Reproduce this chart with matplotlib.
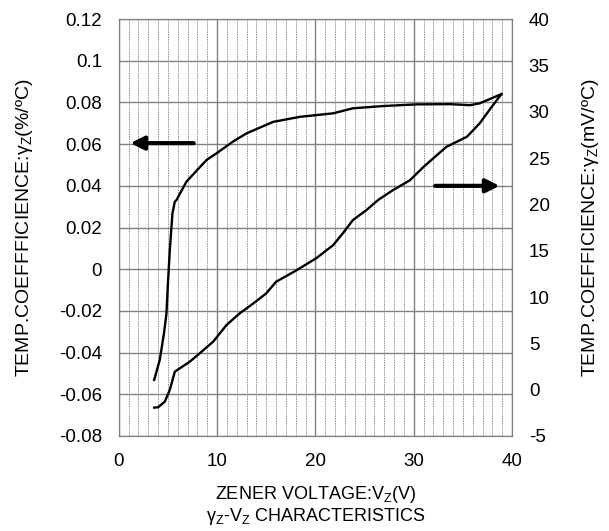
import matplotlib
matplotlib.use("Agg")
import matplotlib.pyplot as plt
import numpy as np

plt.rcParams['font.family'] = ['Liberation Sans', 'DejaVu Sans']
plt.rcParams['mathtext.fontset'] = 'custom'
plt.rcParams['mathtext.rm'] = 'Liberation Sans'
plt.rcParams['mathtext.it'] = 'Liberation Sans'
plt.rcParams['mathtext.default'] = 'regular'
plt.rcParams['axes.unicode_minus'] = False

# Left axis curve: temp coefficient (%/°C)
vz_pct = [3.6, 4.17, 4.6, 4.85, 5.0, 5.19, 5.46, 5.7, 5.87, 6.88, 8.92, 9.94, 11.6, 13.0,
          15.7, 18.4, 21.8, 23.8, 26.9, 30.3, 33.7, 35.7, 36.7, 38.9]
gz_pct = [-0.0531, -0.0435, -0.0307, -0.0212, -0.0068, 0.0092, 0.0268, 0.0324, 0.0332, 0.042,
          0.0524, 0.0556, 0.0612, 0.0652, 0.0707, 0.0731, 0.0748, 0.0772, 0.0783, 0.0791,
          0.0792, 0.0787, 0.0796, 0.084]

# Right axis curve: temp coefficient (mV/°C)
vz_mv = [3.6, 4.0, 4.68, 5.19, 5.7, 6.2, 7.2, 8.24, 9.6, 10.96, 12.3, 13.7, 15.0, 16.0, 18.1,
         20.1, 21.8, 22.8, 23.8, 25.2, 26.4, 27.9, 29.6, 31.0, 33.3, 35.4, 36.7, 37.9, 38.9]
gz_mv = [-1.94, -1.9, -1.3, -0.03, 1.94, 2.3, 3.0, 3.93, 5.18, 6.98, 8.24, 9.32, 10.4, 11.65,
         12.9, 14.2, 15.6, 16.9, 18.3, 19.4, 20.5, 21.55, 22.6, 24.06, 26.2, 27.3, 28.75,
         30.5, 31.9]

left_ticks = [-0.08, -0.06, -0.04, -0.02, 0, 0.02, 0.04, 0.06, 0.08, 0.1, 0.12]
left_labels = ['-0.08', '-0.06', '-0.04', '-0.02', '0', '0.02', '0.04', '0.06', '0.08', '0.1', '0.12']
right_ticks = [-5, 0, 5, 10, 15, 20, 25, 30, 35, 40]
x_ticks = [0, 10, 20, 30, 40]

fig = plt.figure(figsize=(6.09, 5.31), dpi=100)
ax = fig.add_axes([0.195, 0.179, 0.646, 0.785])
ax.set_xlim(0, 40)
ax.set_ylim(-0.08, 0.12)
ax.set_xticks(x_ticks)
ax.set_xticks(np.arange(0, 41, 1), minor=True)
ax.set_yticks(left_ticks)
ax.set_yticklabels(left_labels)
ax.grid(which='major', axis='both', color='#808080', lw=1.0, ls='-')
ax.grid(which='minor', axis='x', color='#909090', lw=0.7, ls=(0, (1.5, 1.0)))
ax.set_axisbelow(True)
ax.tick_params(which='both', length=0, labelsize=13.5)
ax.tick_params(axis='y', pad=12)
ax.tick_params(axis='x', pad=12)
for s in ax.spines.values():
    s.set_color('#808080')

ax.plot(vz_pct, gz_pct, color='black', lw=1.7)

ax.set_xlabel('ZENER VOLTAGE:V$_Z$(V)\n$\\gamma_Z$-V$_Z$ CHARACTERISTICS', fontsize=13,
              linespacing=1.1, labelpad=10)
ax.set_ylabel('TEMP.COEFFFICIENCE:$\\gamma_Z$(%/ºC)', fontsize=14, labelpad=17)

ax2 = ax.twinx()
ax2.set_ylim(-5, 40)
ax2.set_yticks(right_ticks)
ax2.tick_params(length=0, labelsize=13.5, pad=12)
for s in ax2.spines.values():
    s.set_color('#808080')
ax2.plot(vz_mv, gz_mv, color='black', lw=1.7)
ax2.set_ylabel('TEMP.COEFFICIENCE:$\\gamma_Z$(mV/ºC)', fontsize=14, labelpad=22)

ax.annotate('', xy=(0.9, 0.0605), xytext=(7.9, 0.0605),
            arrowprops=dict(arrowstyle='-|>,head_length=0.8,head_width=0.4', color='black', lw=3))
ax2.annotate('', xy=(39.0, 22.0), xytext=(31.9, 22.0),
             arrowprops=dict(arrowstyle='-|>,head_length=0.8,head_width=0.4', color='black', lw=3))

fig.savefig('out.png', dpi=100)
